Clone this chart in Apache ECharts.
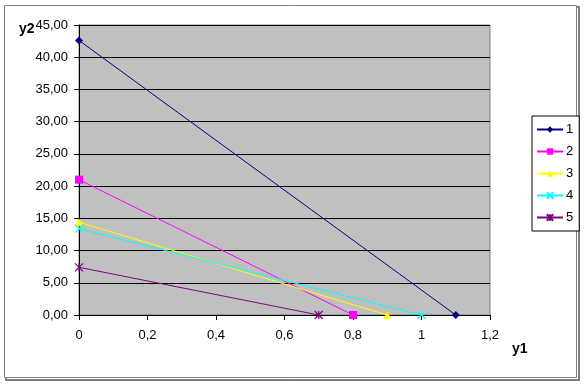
<!DOCTYPE html>
<html><head><meta charset="utf-8">
<script src="https://cdn.jsdelivr.net/npm/echarts@6/dist/echarts.min.js"></script>
<style>html,body{margin:0;padding:0;background:#fff}#c{width:585px;height:385px}</style>
</head><body><div id="c"></div>
<script>
var seriesNames = ['1','2','3','4','5'];
var y1Values = [[0, 1.1], [0, 0.8], [0, 0.9], [0, 1.0], [0, 0.7]];
var y2Values = [[42.6, 0], [21.0, 0], [14.4, 0], [13.4, 0], [7.4, 0]];
var seriesColors = ['#000080', '#ff00ff', '#ffff00', '#00ffff', '#800080'];
var seriesSymbols = ['diamond', 'rect', 'triangle', 'path://M0,0L10,10M10,0L0,10', 'path://M0,0L10,10M10,0L0,10M5,0L5,10'];
var xTicks = [0, 0.2, 0.4, 0.6, 0.8, 1, 1.2];
var yTicks = [0, 5, 10, 15, 20, 25, 30, 35, 40, 45];

var chart = echarts.init(document.getElementById('c'), null, {renderer: 'canvas'});
var font = 'Liberation Sans, Arial, sans-serif';
var series = seriesNames.map(function (n, i) {
  var isPath = seriesSymbols[i].indexOf('path://') === 0;
  return {
    name: n, type: 'line',
    data: y1Values[i].map(function (x, j) { return [x, y2Values[i][j]]; }),
    symbol: seriesSymbols[i],
    symbolSize: 8,
    showSymbol: true,
    lineStyle: {color: seriesColors[i], width: 1},
    itemStyle: isPath ? {color: 'rgba(0,0,0,0)', borderColor: seriesColors[i], borderWidth: 1.2}
                      : {color: seriesColors[i], borderColor: seriesColors[i], borderWidth: 0},
    animation: false
  };
});
chart.setOption({
  animation: false,
  textStyle: {fontFamily: font},
  grid: {left: 79, right: 95, top: 25, bottom: 70, show: true, backgroundColor: '#c0c0c0', borderColor: '#808080', borderWidth: 1},
  xAxis: {
    type: 'value', min: 0, max: 1.2, interval: 0.2,
    axisLine: {show: true, onZero: false, lineStyle: {color: '#000', width: 1}},
    axisTick: {show: true, length: 5, lineStyle: {color: '#000'}},
    splitLine: {show: false},
    axisLabel: {color: '#000', fontSize: 13, margin: 14, fontFamily: font,
      formatter: function (v) { var r = Math.round(v * 10) / 10; return String(r).replace('.', ','); }}
  },
  yAxis: {
    type: 'value', min: 0, max: 45, interval: 5,
    axisLine: {show: true, lineStyle: {color: '#000', width: 1}},
    axisTick: {show: true, length: 5, lineStyle: {color: '#000'}},
    splitLine: {show: true, lineStyle: {color: '#000', width: 1}},
    axisLabel: {color: '#000', fontSize: 13, margin: 11, fontFamily: font,
      formatter: function (v) { return v.toFixed(2).replace('.', ','); }}
  },
  legend: {
    data: seriesNames, orient: 'vertical', left: 532, top: 116,
    itemWidth: 26, itemHeight: 8, itemGap: 9,
    padding: [7, 6, 7, 4],
    borderColor: '#000', borderWidth: 1, backgroundColor: '#fff',
    textStyle: {color: '#000', fontSize: 13, fontFamily: font, padding: [0, 0, 0, -2]}
  },
  graphic: [
    {type: 'rect', shape: {x: 6, y: 7, width: 573, height: 373}, style: {fill: 'none', stroke: '#808080', lineWidth: 2}, z: -10, silent: true},
    {type: 'rect', shape: {x: 4.5, y: 5.5, width: 572, height: 372}, style: {fill: '#fff', stroke: '#808080', lineWidth: 1}, z: -9, silent: true},
    {type: 'text', left: 19, top: 22, style: {text: 'y2', font: 'bold 14px ' + font, fill: '#000'}, z: 10},
    {type: 'text', left: 512, top: 342, style: {text: 'y1', font: 'bold 14px ' + font, fill: '#000'}, z: 10}
  ],
  series: series
});
</script></body></html>
